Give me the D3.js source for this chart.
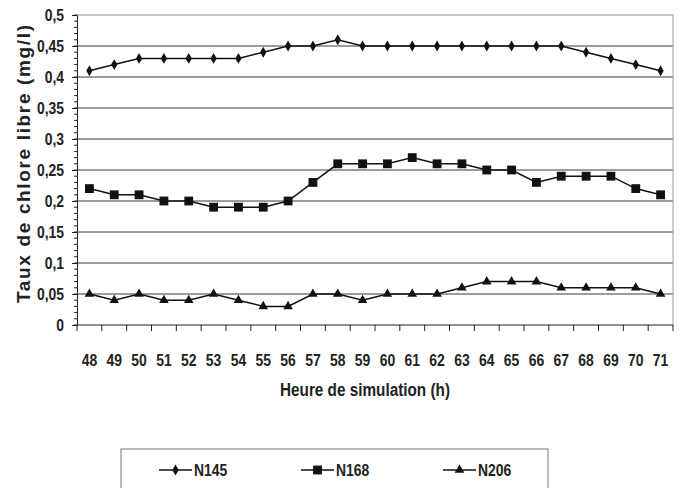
<!DOCTYPE html>
<html>
<head>
<meta charset="utf-8">
<script src="https://cdn.jsdelivr.net/npm/d3@7"></script>
<style>
  body { margin: 0; background: #fff; }
  svg { display: block; }
  .narrow { font-family: "Liberation Sans Narrow", "Arial Narrow", "Liberation Sans", Arial, sans-serif; font-weight: bold; }
</style>
</head>
<body>
<svg id="chart" width="683" height="488"></svg>
<script>
var hours = ["48","49","50","51","52","53","54","55","56","57","58","59",
             "60","61","62","63","64","65","66","67","68","69","70","71"];

var n145 = [0.41,0.42,0.43,0.43,0.43,0.43,0.43,0.44,0.45,0.45,0.46,0.45,
            0.45,0.45,0.45,0.45,0.45,0.45,0.45,0.45,0.44,0.43,0.42,0.41];
var n168 = [0.22,0.21,0.21,0.20,0.20,0.19,0.19,0.19,0.20,0.23,0.26,0.26,
            0.26,0.27,0.26,0.26,0.25,0.25,0.23,0.24,0.24,0.24,0.22,0.21];
var n206 = [0.05,0.04,0.05,0.04,0.04,0.05,0.04,0.03,0.03,0.05,0.05,0.04,
            0.05,0.05,0.05,0.06,0.07,0.07,0.07,0.06,0.06,0.06,0.06,0.05];

var seriesNames = ["N145", "N168", "N206"];
var yTicks = [0, 0.05, 0.1, 0.15, 0.2, 0.25, 0.3, 0.35, 0.4, 0.45, 0.5];

var svg = d3.select("#chart");
var margin = {top: 15, left: 77};
var width = 596, height = 310;

// no Arial Narrow here: squeeze the regular bold face when needed
var probe = svg.append("text").attr("class", "narrow").style("font-size", "100px").text("0000");
var squeeze = Math.min(1, 182 / probe.node().getComputedTextLength());
probe.remove();

function narrow(sel) {
  sel.each(function() {
    var w = this.getComputedTextLength();
    if (squeeze < 0.99)
      d3.select(this).attr("textLength", w * squeeze).attr("lengthAdjust", "spacingAndGlyphs");
  });
}

var g = svg.append("g")
    .attr("transform", "translate(" + margin.left + "," + margin.top + ")");

var x = d3.scaleBand().domain(hours).range([0, width]);
var y = d3.scaleLinear().domain([0, 0.5]).range([height, 0]);

var fmt = function(v) { return String(v).replace(".", ","); };

// gridlines (the 0.5 one doubles as the top border)
g.selectAll(".grid")
  .data(yTicks.filter(function(d) { return d > 0; }))
  .enter().append("line")
    .attr("x1", 0).attr("x2", width)
    .attr("y1", function(d) { return y(d); })
    .attr("y2", function(d) { return y(d); })
    .attr("stroke", function(d) { return d == 0.5 ? "#8a8a8a" : "#3a3a3a"; })
    .attr("stroke-width", 1);

// right border
g.append("line")
  .attr("x1", width).attr("x2", width)
  .attr("y1", 0).attr("y2", height)
  .attr("stroke", "#9a9a9a");

// minor ticks on the y axis
g.selectAll(".minor")
  .data(d3.range(0, 51).map(function(i) { return i / 100; }))
  .enter().append("line")
    .attr("x1", -3).attr("x2", 0)
    .attr("y1", function(d) { return y(d); })
    .attr("y2", function(d) { return y(d); })
    .attr("stroke", "#222");

// y axis
var yAxis = g.append("g")
  .call(d3.axisLeft(y).tickValues(yTicks).tickFormat(fmt).tickSize(5).tickPadding(8));
yAxis.select(".domain").attr("stroke", "#222");
yAxis.selectAll(".tick line").attr("stroke", "#222");
yAxis.selectAll("text")
  .attr("class", "narrow")
  .style("font-size", "17px")
  .attr("fill", "#222")
  .call(narrow);

// x axis: ticks between the categories
var xAxis = g.append("g")
  .attr("transform", "translate(0," + height + ")");
xAxis.append("line")
  .attr("x1", 0).attr("x2", width)
  .attr("stroke", "#222");
xAxis.selectAll(".xt")
  .data(hours)
  .enter().append("line")
    .attr("x1", function(d) { return x(d); })
    .attr("x2", function(d) { return x(d); })
    .attr("y1", 0).attr("y2", 6)
    .attr("stroke", "#222");
xAxis.append("line")
  .attr("x1", width).attr("x2", width).attr("y1", 0).attr("y2", 6)
  .attr("stroke", "#222");
xAxis.selectAll(".xl")
  .data(hours)
  .enter().append("text")
    .attr("class", "narrow")
    .attr("x", function(d) { return x(d) + x.bandwidth() / 2; })
    .attr("y", 41)
    .attr("text-anchor", "middle")
    .style("font-size", "17px")
    .attr("fill", "#222")
    .text(function(d) { return d; })
    .call(narrow);

// axis titles
svg.append("text")
  .attr("class", "narrow")
  .attr("x", 365).attr("y", 396)
  .attr("text-anchor", "middle")
  .style("font-size", "18px")
  .attr("textLength", 170)
  .attr("lengthAdjust", "spacingAndGlyphs")
  .attr("fill", "#222")
  .text("Heure de simulation (h)");

svg.append("text")
  .attr("transform", "translate(30,164) rotate(-90)")
  .attr("text-anchor", "middle")
  .style("font-family", "'Liberation Sans', Arial, sans-serif")
  .style("font-weight", "bold")
  .style("font-size", "19px")
  .attr("textLength", 278)
  .attr("lengthAdjust", "spacing")
  .attr("fill", "#222")
  .text("Taux de chlore libre (mg/l)");

// series
var symbols = [
  d3.symbol().type(d3.symbolDiamond).size(34),
  d3.symbol().type(d3.symbolSquare).size(78),
  d3.symbol().type(d3.symbolTriangle).size(40)
];
var seriesData = [n145, n168, n206];

var line = d3.line()
  .x(function(d, i) { return x(hours[i]) + x.bandwidth() / 2; })
  .y(function(d) { return y(d); });

seriesData.forEach(function(vals, s) {
  g.append("path")
    .datum(vals)
    .attr("d", line)
    .attr("fill", "none")
    .attr("stroke", "#111")
    .attr("stroke-width", 1.5);
  g.selectAll(".m" + s)
    .data(vals)
    .enter().append("path")
      .attr("d", symbols[s])
      .attr("transform", function(d, i) {
        return "translate(" + (x(hours[i]) + x.bandwidth() / 2) + "," + y(d) + ")";
      })
      .attr("fill", "#111");
});

// legend
var legend = svg.append("g");
legend.append("rect")
  .attr("x", 121).attr("y", 449)
  .attr("width", 427).attr("height", 60)
  .attr("fill", "none")
  .attr("stroke", "#777");

var legendX = [159, 301, 443];
seriesNames.forEach(function(name, s) {
  var item = legend.append("g").attr("transform", "translate(" + legendX[s] + ",470)");
  item.append("line")
    .attr("x1", 0).attr("x2", 33)
    .attr("stroke", "#111").attr("stroke-width", 1.5);
  item.append("path")
    .attr("d", symbols[s])
    .attr("transform", "translate(16.5,0)")
    .attr("fill", "#111");
  item.append("text")
    .attr("class", "narrow")
    .attr("x", 35).attr("y", 6)
    .style("font-size", "17px")
    .attr("fill", "#222")
    .text(name)
    .call(narrow);
});
</script>
</body>
</html>
